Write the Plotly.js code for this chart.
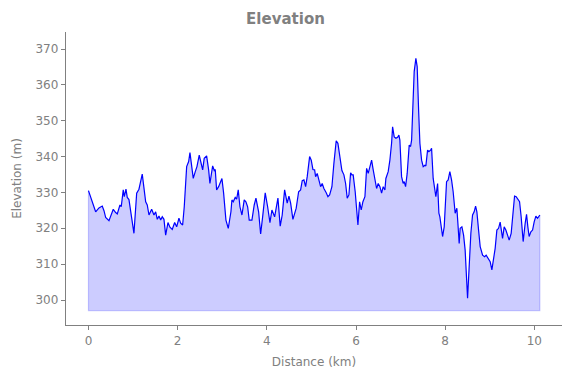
<!DOCTYPE html>
<html>
<head>
<meta charset="utf-8">
<script src="https://cdn.plot.ly/plotly-3.0.1.min.js"></script>
<style>html,body{margin:0;padding:0;background:#fff;}#chart{width:571px;height:378px;}</style>
</head>
<body>
<div id="chart"></div>
<script>
const distanceKm = [0.0,0.161,0.235,0.309,0.348,0.386,0.460,0.556,0.610,0.646,0.706,0.735,0.780,0.803,0.841,0.870,0.908,0.946,1.020,1.081,1.132,1.206,1.244,1.283,1.318,1.357,1.417,1.469,1.507,1.543,1.581,1.619,1.655,1.693,1.731,1.783,1.827,1.879,1.933,1.978,2.029,2.067,
2.112,2.148,2.202,2.247,2.276,2.305,2.350,2.395,2.433,2.484,2.522,2.561,2.596,2.650,2.695,2.724,2.785,2.821,2.843,2.874,2.919,2.955,2.993,3.031,3.083,3.135,3.195,3.217,3.247,3.291,3.323,3.359,3.397,3.442,3.493,3.531,3.570,3.605,3.666,3.717,3.756,3.816,3.861,3.906,3.964,4.018,4.070,4.114,
4.175,4.249,4.300,4.345,4.399,4.457,4.496,4.534,4.585,4.659,4.713,4.758,4.794,4.832,4.870,4.906,4.960,4.996,5.034,5.072,5.094,5.130,5.161,5.206,5.242,5.280,5.332,5.370,5.408,5.460,5.504,5.556,5.594,5.632,5.684,5.729,5.767,5.803,5.841,5.879,5.908,5.937,5.982,6.043,6.081,6.117,6.155,
6.200,6.238,6.274,6.312,6.350,6.386,6.424,6.462,6.498,6.536,6.574,6.610,6.648,6.670,6.722,6.760,6.798,6.821,6.857,6.895,6.933,6.962,6.984,7.022,7.058,7.081,7.112,7.148,7.193,7.224,7.247,7.283,7.305,7.343,7.372,7.404,7.433,7.471,7.507,7.545,7.567,7.605,7.635,7.673,7.695,7.731,7.769,7.791,7.830,7.859,7.881,7.942,7.978,8.031,8.067,8.105,8.143,8.179,
8.224,8.262,8.285,8.314,8.336,8.375,8.413,8.448,8.502,8.538,8.576,8.614,8.650,8.682,8.711,8.749,8.785,8.839,8.883,8.919,8.957,8.987,9.009,9.047,9.085,9.121,9.159,9.197,9.233,9.256,9.287,9.323,9.361,9.399,9.435,9.480,9.518,9.556,9.592,9.630,9.668,9.704,9.749,9.794,9.825,9.854,9.883,9.922,9.960,9.996,10.034,10.072,10.123];

const elevationM = [330.5,324.6,325.7,326.2,324.9,323.0,322.1,325.3,324.4,324.0,326.5,326.0,330.7,328.8,330.9,328.6,328.0,325.1,318.6,329.8,330.9,335.1,331.6,327.4,326.5,323.7,325.3,323.7,324.6,322.5,323.4,322.3,323.2,322.5,318.1,321.6,320.3,319.7,321.6,320.4,322.8,321.4,
320.9,326.0,337.2,338.6,341.1,338.1,333.9,335.8,337.2,340.4,338.6,336.3,339.5,340.2,336.3,332.5,337.4,336.1,336.4,330.7,331.6,333.0,333.9,329.8,322.3,320.0,324.6,327.9,327.4,328.6,328.1,330.7,326.0,323.7,327.9,327.4,326.0,322.3,322.3,326.5,328.4,324.6,318.4,323.2,329.9,326.0,321.6,325.1,
323.2,328.4,320.6,323.7,330.7,327.0,329.0,327.0,322.5,325.6,330.2,330.7,333.3,333.5,331.6,334.4,340.0,339.0,336.4,336.3,334.4,335.3,333.9,331.6,332.5,331.1,329.9,328.8,329.3,331.6,338.1,344.4,343.7,340.9,336.1,334.9,332.5,328.4,329.3,335.5,334.9,334.9,330.2,320.9,327.4,325.1,327.4,
328.8,336.7,335.3,337.6,339.0,336.3,333.9,331.1,332.5,331.6,329.8,331.6,330.7,333.9,335.8,339.0,343.7,348.3,345.5,345.1,345.4,346.0,344.6,334.4,332.5,333.0,331.6,335.3,343.2,342.8,344.6,358.6,363.7,367.4,365.1,353.0,343.7,339.0,337.2,337.6,337.4,341.8,341.4,341.8,342.3,333.9,330.7,328.8,332.5,324.2,323.2,317.7,320.4,333.0,333.5,335.8,333.5,330.2,
324.2,325.6,321.4,315.8,320.0,320.4,318.1,313.9,300.5,309.3,318.6,323.7,324.6,326.2,324.6,319.5,314.9,312.5,312.1,312.5,311.6,311.2,310.7,308.4,311.6,314.4,319.5,320.0,321.7,319.0,317.2,320.4,319.5,318.1,316.7,318.6,324.2,329.0,328.8,327.9,327.4,323.2,316.3,321.4,323.9,320.4,317.7,319.0,319.5,321.8,323.4,322.8,323.7];

const fillBase = 297;
const xTicks = [0, 2, 4, 6, 8, 10];
const yTicks = [300, 310, 320, 330, 340, 350, 360, 370];

const n = distanceKm.length;
const baseTrace = {
  x: [distanceKm[0], distanceKm[0], distanceKm[n-1], distanceKm[n-1]],
  y: [elevationM[0], fillBase, fillBase, elevationM[n-1]],
  mode: 'lines',
  line: {color: 'rgba(0,0,255,0.2)', width: 1.2},
  hoverinfo: 'skip',
  showlegend: false
};
const elevTrace = {
  x: distanceKm,
  y: elevationM,
  mode: 'lines',
  fill: 'tonexty',
  fillcolor: 'rgba(0,0,255,0.2)',
  line: {color: 'rgb(0,0,255)', width: 1.2},
  showlegend: false
};

const gray = 'rgb(128,128,128)';
const layout = {
  width: 571, height: 378,
  margin: {l: 66, r: 9, t: 32, b: 53},
  paper_bgcolor: '#fff', plot_bgcolor: '#fff',
  font: {family: 'DejaVu Sans', color: gray, size: 12},
  title: {text: '<b>Elevation</b>', x: 0.5, xref: 'container', y: 0.95, yanchor: 'middle', font: {size: 15, color: gray, family: 'DejaVu Sans'}},
  xaxis: {
    range: [-0.504, 10.62], tickvals: xTicks, ticktext: xTicks.map(String),
    showgrid: false, zeroline: false, showline: true, linecolor: gray, linewidth: 1.2,
    ticks: 'outside', ticklen: 4, tickcolor: gray, tickwidth: 1,
    tickfont: {size: 12, color: gray},
    title: {text: 'Distance (km)', font: {size: 12, color: gray}, standoff: 11}
  },
  yaxis: {
    range: [293.03, 374.74], tickvals: yTicks, ticktext: yTicks.map(String),
    showgrid: false, zeroline: false, showline: true, linecolor: gray, linewidth: 1.2,
    ticks: 'outside', ticklen: 4, tickcolor: gray, tickwidth: 1,
    tickfont: {size: 12, color: gray},
    title: {text: 'Elevation (m)', font: {size: 12, color: gray}, standoff: 11}
  }
};
Plotly.newPlot('chart', [baseTrace, elevTrace], layout, {displayModeBar: false, staticPlot: true});
</script>
</body>
</html>
